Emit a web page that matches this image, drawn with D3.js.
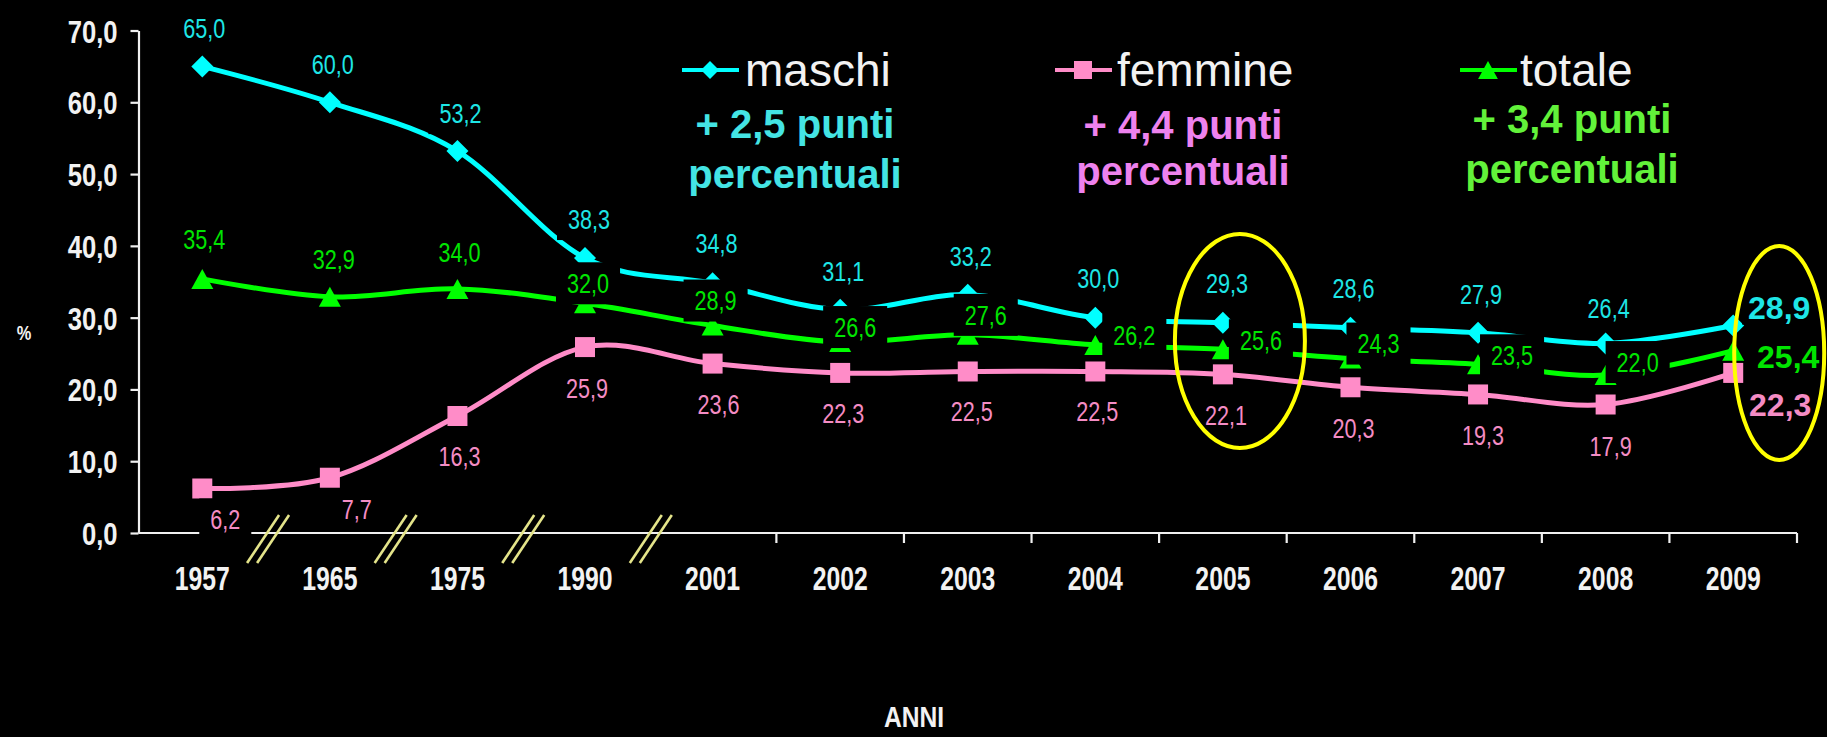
<!DOCTYPE html>
<html>
<head>
<meta charset="utf-8">
<script src="https://cdn.jsdelivr.net/npm/d3@7/dist/d3.min.js"></script>
<style>
  html, body { margin: 0; padding: 0; background: #000; overflow: hidden; }
  svg { display: block; }
  text { font-family: "Liberation Sans", Arial, sans-serif; }
</style>
</head>
<body>
<svg id="chart"></svg>
<script>
// Tasso di attività per sesso (%), anni selezionati

const years = ['1957', '1965', '1975', '1990', '2001', '2002', '2003', '2004', '2005', '2006', '2007', '2008', '2009'];
const maschi = [65.0, 60.0, 53.2, 38.3, 34.8, 31.1, 33.2, 30.0, 29.3, 28.6, 27.9, 26.4, 28.9];
const femmine = [6.2, 7.7, 16.3, 25.9, 23.6, 22.3, 22.5, 22.5, 22.1, 20.3, 19.3, 17.9, 22.3];
const totale = [35.4, 32.9, 34.0, 32.0, 28.9, 26.6, 27.6, 26.2, 25.6, 24.3, 23.5, 22.0, 25.4];
const yTicks = [0, 10, 20, 30, 40, 50, 60, 70];
const seriesNames = ['maschi', 'femmine', 'totale'];
const seriesNotes = ['+ 2,5 punti', '+ 4,4 punti', '+ 3,4 punti'];
const brokenIntervals = 4; // first gaps on the x axis are compressed (//)

// label nudges (dx, dy of label centre from the point), as placed in the original
const maschiShift = [[2, -38], [3, -38], [3, -38], [4, -39], [4, -40], [3, -38], [3, -38], [3, -39], [4, -39], [3, -39], [3, -38], [3, -35], [46, -18]];
const femmineShift = [[23, 31], [27, 32], [2, 40], [2, 41], [6, 41], [3, 40], [4, 40], [2, 40], [3, 41], [3, 41], [5, 41], [5, 42], [47, 32]];
const totaleShift = [[2, -40], [4, -38], [2, -37], [3, -20], [3, -25], [15, -15], [18, -20], [39, -10], [38, -9], [28, -15], [34, -9], [32, -13], [55, 6]];

const W = 1827, H = 737;
const axisColor = '#f0f0f0';
const textColor = '#f2f2f2';

const series = [
  { name: seriesNames[0], values: maschi, shift: maschiShift, line: '#00ffff', label: '#1ee6e6', note: '#44e4e4', width: 5, marker: 'diamond' },
  { name: seriesNames[1], values: femmine, shift: femmineShift, line: '#ff8cc8', label: '#f48cc4', note: '#ee82ee', width: 5, marker: 'square' },
  { name: seriesNames[2], values: totale, shift: totaleShift, line: '#00ff00', label: '#00e400', note: '#62f23a', width: 5, marker: 'triangle' }
];

const svg = d3.select('#chart').attr('width', W).attr('height', H);
svg.append('rect').attr('width', W).attr('height', H).attr('fill', '#000');

const x = d3.scaleBand().domain(years).range([138.5, 1797]).padding(0);
const cx = d => x(d) + x.bandwidth() / 2;
const y = d3.scaleLinear().domain([0, 70]).range([533, 30.5]);

const fmt = v => d3.format('.1f')(v).replace('.', ',');

// squeeze text horizontally (Arial Narrow look)
function narrow(sel, k) {
  sel.each(function() {
    const w = this.getComputedTextLength();
    d3.select(this).attr('textLength', w * k).attr('lengthAdjust', 'spacingAndGlyphs');
  });
}

function markerPath(type, s) {
  const h = s / 2;
  if (type === 'diamond') return `M0,${-h}L${h},0L0,${h}L${-h},0Z`;
  if (type === 'square') return `M${-h},${-h}H${h}V${h}H${-h}Z`;
  return `M0,${-h}L${h * 1.1},${h}L${-h * 1.1},${h}Z`;
}

// Y axis
const yAxis = d3.axisLeft(y)
  .tickValues(yTicks)
  .tickSize(8)
  .tickSizeOuter(0)
  .tickPadding(13)
  .tickFormat(fmt);

const gy = svg.append('g')
  .attr('transform', `translate(${x.range()[0]},0)`)
  .call(yAxis);
gy.select('.domain').attr('stroke', axisColor).attr('stroke-width', 2.2);
gy.selectAll('.tick line').attr('stroke', axisColor).attr('stroke-width', 2.2);
gy.selectAll('.tick text')
  .attr('fill', textColor)
  .attr('dy', '0.36em')
  .style('font-size', '32px')
  .style('font-weight', 'bold')
  .call(narrow, 0.8);

// X axis
const xAxis = d3.axisBottom(x).tickSize(0).tickPadding(34);
const gx = svg.append('g')
  .attr('transform', `translate(0,${y(0)})`)
  .call(xAxis);
gx.select('.domain').remove();
gx.selectAll('.tick text')
  .attr('fill', textColor)
  .style('font-size', '33px')
  .style('font-weight', 'bold')
  .call(narrow, 0.75);

gx.append('line')
  .attr('x1', x.range()[0]).attr('x2', x.range()[1])
  .attr('y1', 0).attr('y2', 0)
  .attr('stroke', axisColor).attr('stroke-width', 2.2);

const bounds = years.slice(1).map(d => x(d)).concat([x.range()[1]]);

gx.selectAll('.btick')
  .data(bounds.slice(brokenIntervals))
  .enter()
  .append('line')
  .attr('class', 'btick')
  .attr('x1', d => d).attr('x2', d => d)
  .attr('y1', 0).attr('y2', 10)
  .attr('stroke', axisColor).attr('stroke-width', 2.2);

// break marks //
const breaks = gx.selectAll('.brk')
  .data(bounds.slice(0, brokenIntervals))
  .enter()
  .append('g')
  .attr('class', 'brk')
  .attr('transform', d => `translate(${d + 2},6)`);
[-5, 5].forEach(o => {
  breaks.append('line')
    .attr('x1', o - 16).attr('y1', 24)
    .attr('x2', o + 16).attr('y2', -24)
    .attr('stroke', '#e4e48a').attr('stroke-width', 2.6);
});

// axis titles
svg.append('text')
  .attr('x', 24).attr('y', 340)
  .attr('text-anchor', 'middle')
  .attr('fill', textColor)
  .style('font-size', '20px')
  .style('font-weight', 'bold')
  .text('%')
  .call(narrow, 0.82);

svg.append('text')
  .attr('x', 914).attr('y', 727)
  .attr('text-anchor', 'middle')
  .attr('fill', textColor)
  .style('font-size', '30px')
  .style('font-weight', 'bold')
  .text('ANNI')
  .call(narrow, 0.82);

// lines
const line = d3.line()
  .x((d, i) => cx(years[i]))
  .y(d => y(d))
  .curve(d3.curveCardinal.tension(0));

const linesG = svg.append('g');
series.forEach(s => {
  linesG.append('path')
    .datum(s.values)
    .attr('d', line)
    .attr('fill', 'none')
    .attr('stroke', s.line)
    .attr('stroke-width', s.width)
    .attr('stroke-linejoin', 'round');
});

// markers
const markersG = svg.append('g');
series.forEach(s => {
  markersG.selectAll(null)
    .data(s.values)
    .enter()
    .append('path')
    .attr('transform', (d, i) => `translate(${cx(years[i])},${y(d)})`)
    .attr('d', markerPath(s.marker, s.marker === 'diamond' ? 22 : 20))
    .attr('fill', s.line);
});

// data labels with black boxes (they hide the lines beneath)
const labelsG = svg.append('g');
series.forEach(s => {
  s.values.forEach((v, i) => {
    const last = i === years.length - 1;
    const fs = last ? 32 : 27;
    const lx = cx(years[i]) + s.shift[i][0];
    const ly = y(v) + s.shift[i][1];
    const g = labelsG.append('g');
    const box = g.append('rect').attr('fill', '#000');
    const t = g.append('text')
      .attr('x', lx)
      .attr('y', ly + fs * 0.36)
      .attr('text-anchor', 'middle')
      .attr('fill', s.label)
      .style('font-size', fs + 'px')
      .style('font-weight', last ? 'bold' : 'normal')
      .text(fmt(v));
    let w = t.node().getComputedTextLength();
    if (!last) { t.call(narrow, 0.8); w *= 0.8; }
    const padX = last ? 6 : 11;
    const bh = last ? 34 : 42;
    box.attr('x', lx - w / 2 - padX)
      .attr('y', ly - bh / 2)
      .attr('width', w + padX * 2)
      .attr('height', bh);
  });
});

// highlight ellipses
const ellipses = [
  { year: '2005', dx: 17, cy: 341, rx: 65, ry: 107 },
  { year: '2009', dx: 46, cy: 353, rx: 45, ry: 107 }
];
svg.selectAll('.hl')
  .data(ellipses)
  .enter()
  .append('ellipse')
  .attr('class', 'hl')
  .attr('cx', d => cx(d.year) + d.dx)
  .attr('cy', d => d.cy)
  .attr('rx', d => d.rx)
  .attr('ry', d => d.ry)
  .attr('fill', 'none')
  .attr('stroke', '#ffff00')
  .attr('stroke-width', 4);

// legend
const legendPos = [
  { lx: 682, tx: 745, nx: 795, n1: 138, n2: 188 },
  { lx: 1055, tx: 1117, nx: 1183, n1: 139, n2: 185 },
  { lx: 1460, tx: 1520, nx: 1572, n1: 133, n2: 183 }
];
series.forEach((s, i) => {
  const p = legendPos[i];
  const g = svg.append('g');
  g.append('line')
    .attr('x1', p.lx).attr('x2', p.lx + 57)
    .attr('y1', 70).attr('y2', 70)
    .attr('stroke', s.line).attr('stroke-width', 4);
  g.append('path')
    .attr('transform', `translate(${p.lx + 28},70)`)
    .attr('d', markerPath(s.marker, 18))
    .attr('fill', s.line);
  g.append('text')
    .attr('x', p.tx).attr('y', 86)
    .attr('fill', textColor)
    .style('font-size', '46px')
    .text(s.name);
  g.append('text')
    .attr('x', p.nx).attr('y', p.n1)
    .attr('text-anchor', 'middle')
    .attr('fill', s.note)
    .style('font-size', '40px')
    .style('font-weight', 'bold')
    .text(seriesNotes[i]);
  g.append('text')
    .attr('x', p.nx).attr('y', p.n2)
    .attr('text-anchor', 'middle')
    .attr('fill', s.note)
    .style('font-size', '40px')
    .style('font-weight', 'bold')
    .text('percentuali');
});
</script>
</body>
</html>
